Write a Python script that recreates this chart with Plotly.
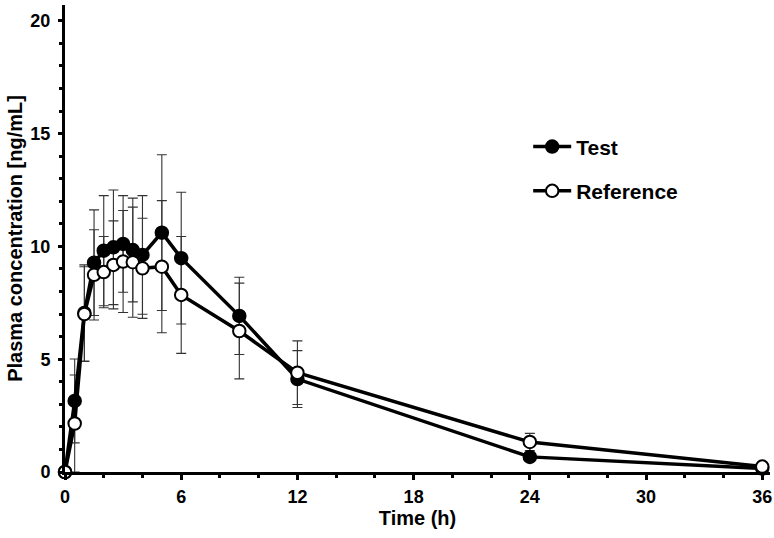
import plotly.graph_objects as go

time_h = [0, 0.5, 1, 1.5, 2, 2.5, 3, 3.5, 4, 5, 6, 9, 12, 24, 36]
test_mean = [0, 3.15, 7.05, 9.28, 9.81, 9.96, 10.11, 9.84, 9.62, 10.61, 9.48, 6.92, 4.12, 0.67, 0.15]
test_sd = [0, 1.86, 2.13, 2.34, 2.44, 2.54, 2.14, 2.30, 2.63, 3.45, 2.92, 1.71, 1.26, 0.20, 0.08]
ref_mean = [0, 2.15, 7.0, 8.74, 8.86, 9.18, 9.33, 9.30, 9.03, 9.10, 7.85, 6.25, 4.40, 1.33, 0.24]
ref_sd = [0, 2.15, 2.10, 2.00, 1.58, 1.95, 2.26, 2.44, 2.22, 2.93, 2.59, 2.12, 1.41, 0.38, 0.10]

x_ticks = [0, 6, 12, 18, 24, 30, 36]
y_ticks = [0, 5, 10, 15, 20]

FONT = "Liberation Sans"

fig = go.Figure()

# error bars (drawn beneath the lines/markers)
for mean, sd in [(test_mean, test_sd), (ref_mean, ref_sd)]:
    fig.add_trace(go.Scatter(
        x=time_h, y=mean, mode="markers",
        marker=dict(size=1, opacity=0),
        error_y=dict(type="data", array=sd, visible=True, color="#333333",
                     thickness=1.1, width=5),
        showlegend=False, hoverinfo="skip", cliponaxis=False,
    ))

fig.add_trace(go.Scatter(
    x=time_h, y=test_mean, mode="lines+markers", name="Test",
    line=dict(color="black", width=3.5),
    marker=dict(symbol="circle", size=12.5, color="black",
                line=dict(color="black", width=2)),
    legendgroup="t", cliponaxis=False,
))
fig.add_trace(go.Scatter(
    x=time_h, y=ref_mean, mode="lines+markers", name="Reference",
    line=dict(color="black", width=3.5),
    marker=dict(symbol="circle", size=12.5, color="white",
                line=dict(color="black", width=2)),
    legendgroup="r", cliponaxis=False,
))

fig.update_layout(
    width=774, height=538,
    margin=dict(l=65, r=4, t=5, b=66),
    paper_bgcolor="white", plot_bgcolor="white",
    font=dict(family=FONT, color="black"),
    showlegend=True,
    legend=dict(
        x=0.657, y=0.740, xanchor="left", yanchor="top",
        font=dict(family=FONT, size=21, color="black", weight="bold"),
        tracegroupgap=14, itemwidth=38, bgcolor="rgba(0,0,0,0)",
    ),
    xaxis=dict(
        range=[0, 36.4], tickvals=x_ticks, ticktext=[str(v) for v in x_ticks],
        showgrid=False, zeroline=False, automargin=False,
        showline=True, linecolor="black", linewidth=3,
        ticks="outside", ticklen=5, tickwidth=2.5, tickcolor="black",
        minor=dict(dtick=2, tick0=0, ticks="outside", ticklen=3, tickwidth=2.5, tickcolor="black"),
        tickfont=dict(family=FONT, size=18, weight="bold"),
        ticklabelstandoff=1,
        title=dict(text="Time (h)", font=dict(family=FONT, size=20, weight="bold"), standoff=6),
    ),
    yaxis=dict(
        range=[0, 20.7], tickvals=y_ticks, ticktext=[str(v) for v in y_ticks],
        showgrid=False, zeroline=False, automargin=False,
        showline=True, linecolor="black", linewidth=3,
        ticks="outside", ticklen=4, tickwidth=2.5, tickcolor="black",
        minor=dict(dtick=1, tick0=0, ticks="outside", ticklen=3, tickwidth=2.5, tickcolor="black"),
        tickfont=dict(family=FONT, size=18, weight="bold"),
        ticklabelstandoff=4,
        title=dict(text="Plasma concentration [ng/mL]", font=dict(family=FONT, size=20, weight="bold"), standoff=3),
    ),
)

fig.write_html("out.html", config={"displayModeBar": False},
               post_script="document.body.style.margin='0';")
